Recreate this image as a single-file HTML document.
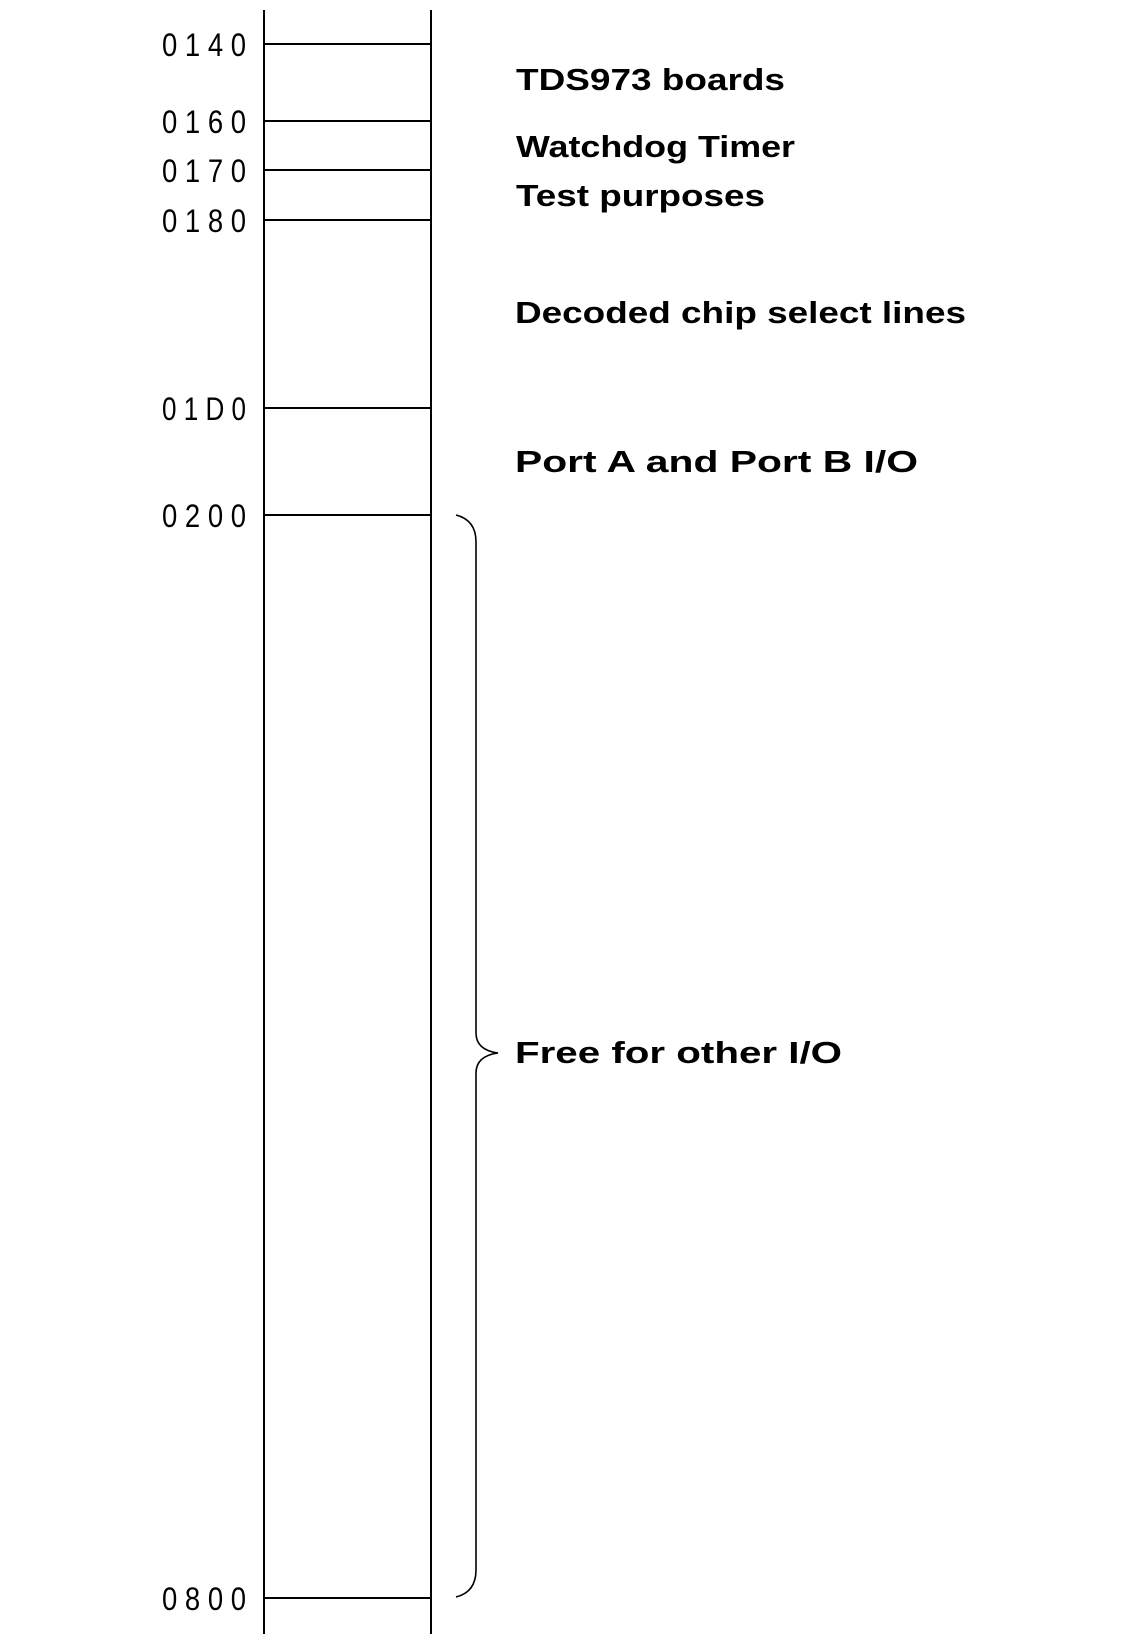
<!DOCTYPE html>
<html><head><meta charset="utf-8"><style>
html,body{margin:0;padding:0;background:#fff}
svg{display:block}
.n{font-family:"Liberation Sans",sans-serif;font-size:32px;fill:#000}
.b{font-family:"Liberation Sans",sans-serif;font-weight:bold;font-size:31px;fill:#000}
</style></head><body>
<svg width="1136" height="1639" viewBox="0 0 1136 1639" xmlns="http://www.w3.org/2000/svg">
<g stroke="#000" stroke-width="2" fill="none">
<line x1="264" y1="10" x2="264" y2="1634"/>
<line x1="431" y1="10" x2="431" y2="1634"/>
<line x1="264" y1="44" x2="431" y2="44"/>
<line x1="264" y1="121" x2="431" y2="121"/>
<line x1="264" y1="170" x2="431" y2="170"/>
<line x1="264" y1="220" x2="431" y2="220"/>
<line x1="264" y1="408" x2="431" y2="408"/>
<line x1="264" y1="515" x2="431" y2="515"/>
<line x1="264" y1="1598" x2="431" y2="1598"/>
<path stroke-width="1.6" d="M456,515 Q476,520 476,542 L476,1033 Q476,1050 498,1053 Q476,1056 476,1073 L476,1570 Q476,1592 456,1597"/>
</g>
<g class="n">
<text x="162" y="56" textLength="84" lengthAdjust="spacingAndGlyphs">0 1 4 0</text>
<text x="162" y="133" textLength="84" lengthAdjust="spacingAndGlyphs">0 1 6 0</text>
<text x="162" y="182" textLength="84" lengthAdjust="spacingAndGlyphs">0 1 7 0</text>
<text x="162" y="232" textLength="84" lengthAdjust="spacingAndGlyphs">0 1 8 0</text>
<text x="162" y="420" textLength="84" lengthAdjust="spacingAndGlyphs">0 1 D 0</text>
<text x="162" y="527" textLength="84" lengthAdjust="spacingAndGlyphs">0 2 0 0</text>
<text x="162" y="1610" textLength="84" lengthAdjust="spacingAndGlyphs">0 8 0 0</text>
</g>
<g class="b">
<text x="516" y="90" textLength="269" lengthAdjust="spacingAndGlyphs">TDS973  boards</text>
<text x="516" y="157" textLength="279" lengthAdjust="spacingAndGlyphs">Watchdog  Timer</text>
<text x="516" y="206" textLength="249" lengthAdjust="spacingAndGlyphs">Test  purposes</text>
<text x="515" y="323" textLength="451" lengthAdjust="spacingAndGlyphs">Decoded  chip  select  lines</text>
<text x="515" y="472" textLength="403" lengthAdjust="spacingAndGlyphs">Port  A  and  Port  B  I/O</text>
<text x="515" y="1063" textLength="327" lengthAdjust="spacingAndGlyphs">Free  for  other  I/O</text>
</g>
</svg>
</body></html>
